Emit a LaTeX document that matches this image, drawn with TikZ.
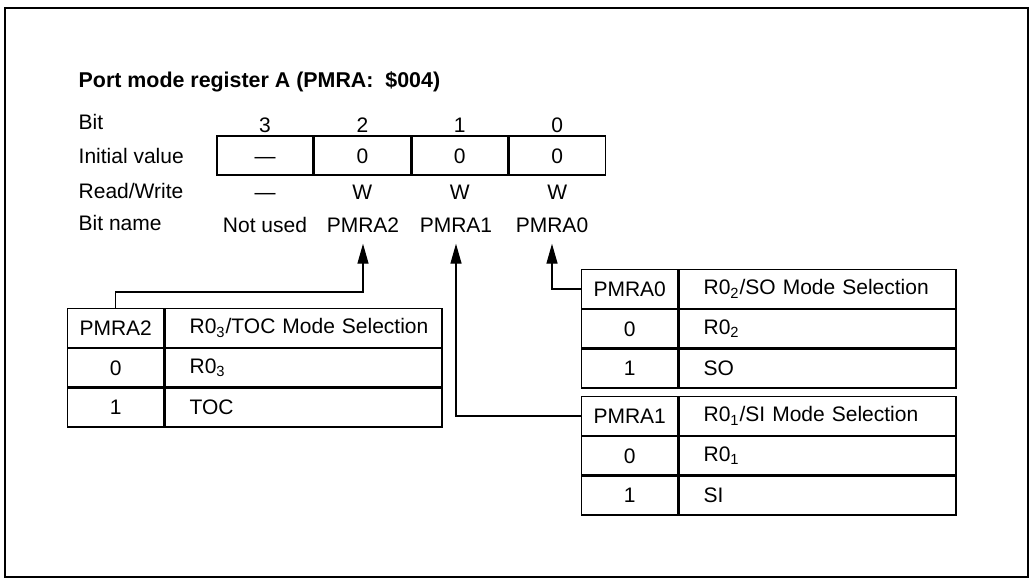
\documentclass[tikz,border=0pt]{standalone}
\usepackage{fontspec}
\setmainfont{Liberation Sans}
\usetikzlibrary{arrows.meta,positioning}

\begin{document}
\begin{tikzpicture}[x=0.5pt, y=-0.5pt, line width=0.7pt,
    % ---- styles ----
    every node/.style={font=\fontsize{10.5}{12}\selectfont, inner sep=0pt},
    L/.style={anchor=west},
    T/.style={anchor=west, font=\fontsize{10.7}{13}\selectfont\bfseries},
    R/.style={draw, minimum width=48pt, minimum height=19.5pt,
              text height=7.6pt, text depth=0pt},
    C/.style={text height=7.6pt, text depth=0pt},
    N/.style={minimum height=18pt},
    K/.style={draw, minimum width=48pt, minimum height=19.25pt},
    V/.style={draw, minimum height=19.25pt, text width=132pt,
              inner xsep=3.25pt, align=left,
              execute at begin node=\hspace*{9pt}},
    A/.style={-{Triangle[length=10pt, width=5.5pt]}, line width=0.7pt},
]
\useasboundingbox (0,0) rectangle (1033,585);

% ===== Frame and title =====
\draw (5,8) rectangle (1028,577);
\node[T] (title) at (78,82) {Port mode register A (PMRA:\ \ \$004)};

% ===== Row labels =====
\node[L] (lbit)  at (78,122) {Bit};
\node[L] (linit) at (78,156) {Initial value};
\node[L] (lrw)   at (78,191) {Read/Write};
\node[L] (lname) at (78,223) {Bit name};

% ===== Register =====
\node[R] (reg3) at (265,155.5) {---};
\node[R, right=0pt of reg3] (reg2) {0};
\node[R, right=0pt of reg2] (reg1) {0};
\node[R, right=0pt of reg1] (reg0) {0};

\foreach \b/\rw in {3/---, 2/W, 1/W, 0/W} {
    \node[C, above=1pt of reg\b] (bit\b) {\b};
    \node[C, below=4pt of reg\b] (rw\b) {\rw};
}

\node[N] (n3) at (265,225) {Not used};
\node[N] (n2) at (363,225) {PMRA2};
\node[N] (n1) at (456,225) {PMRA1};
\node[N] (n0) at (552,225) {PMRA0};

% ===== Table PMRA2 =====
\node[K, anchor=north west] (t2key) at (67,308) {PMRA2};
\node[V, right=0pt of t2key] (t2head) {R0\textsubscript{3}/TOC Mode Selection};
\node[K, below=0pt of t2key] (t2k0) {0};
\node[V, right=0pt of t2k0] (t2v0) {R0\textsubscript{3}};
\node[K, below=0pt of t2k0] (t2k1) {1};
\node[V, right=0pt of t2k1] (t2v1) {TOC};

% ===== Table PMRA0 =====
\node[K, anchor=north west] (t0key) at (581,269) {PMRA0};
\node[V, right=0pt of t0key] (t0head) {R0\textsubscript{2}/SO Mode Selection};
\node[K, below=0pt of t0key] (t0k0) {0};
\node[V, right=0pt of t0k0] (t0v0) {R0\textsubscript{2}};
\node[K, below=0pt of t0k0] (t0k1) {1};
\node[V, right=0pt of t0k1] (t0v1) {SO};

% ===== Table PMRA1 =====
\node[K, anchor=north west] (t1key) at (581,396) {PMRA1};
\node[V, right=0pt of t1key] (t1head) {R0\textsubscript{1}/SI Mode Selection};
\node[K, below=0pt of t1key] (t1k0) {0};
\node[V, right=0pt of t1k0] (t1v0) {R0\textsubscript{1}};
\node[K, below=0pt of t1k0] (t1k1) {1};
\node[V, right=0pt of t1k1] (t1v1) {SI};

% ===== Connectors =====
\draw[A] (t2key.north) -- ++(0,-16) -| (n2.south);
\draw[A] (t1key.west) -| (n1.south);
\draw[A] (t0key.west) -| (n0.south);

\end{tikzpicture}
\end{document}
